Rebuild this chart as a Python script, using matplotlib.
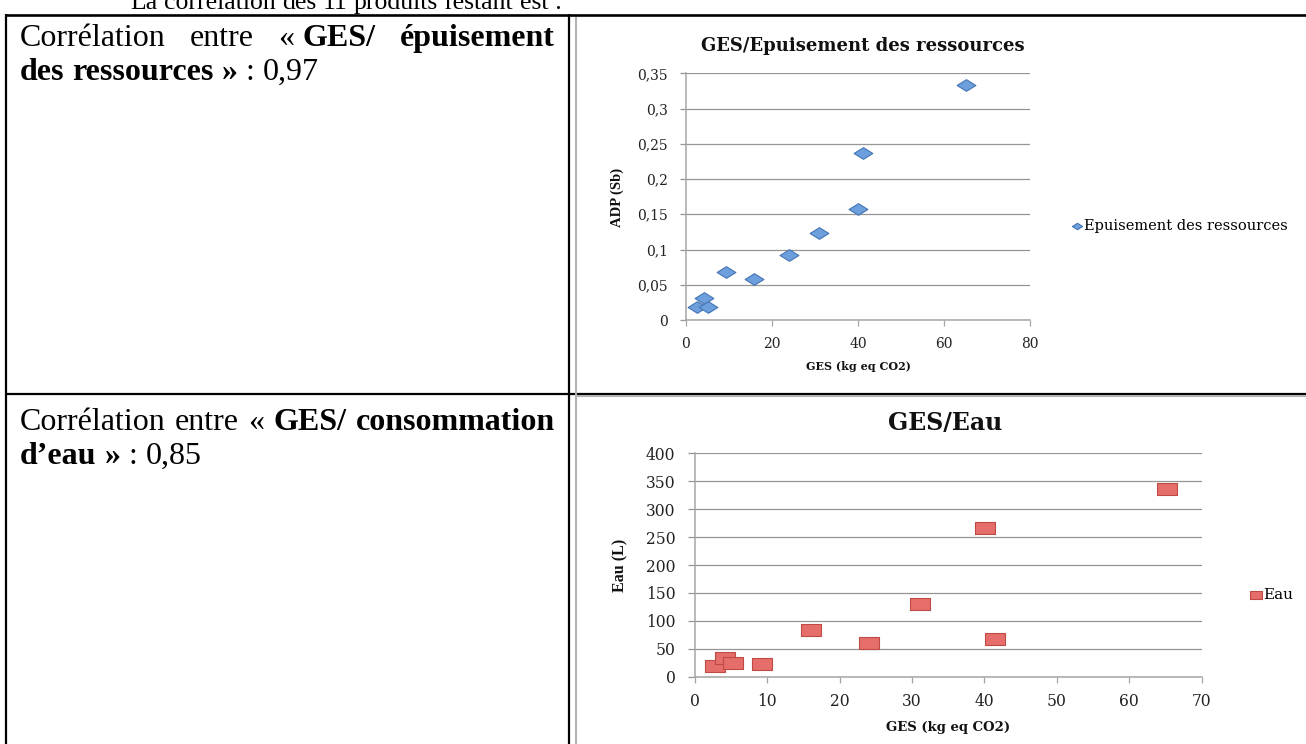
import matplotlib
matplotlib.use('Agg')
import matplotlib.pyplot as plt
from matplotlib.path import Path
from matplotlib.lines import Line2D
from matplotlib.ticker import FixedLocator, FixedFormatter

W, H = 1306, 744
DPI = 100

# ---------------- data ----------------
ges_adp = [2.5, 4.2, 5.1, 9.2, 15.9, 24.0, 30.9, 39.9, 41.2, 65.1]
adp = [0.019, 0.031, 0.019, 0.068, 0.058, 0.092, 0.123, 0.157, 0.237, 0.333]
adp_ticks = [0, 0.05, 0.1, 0.15, 0.2, 0.25, 0.3, 0.35]
adp_labels = ["0", "0,05", "0,1", "0,15", "0,2", "0,25", "0,3", "0,35"]
ges1_ticks = [0, 20, 40, 60, 80]
ges1_labels = ["0", "20", "40", "60", "80"]

ges_eau = [2.8, 4.2, 5.2, 9.3, 16.0, 24.0, 31.1, 40.1, 41.4, 65.3]
eau = [20, 34, 24, 23, 84, 61, 130, 267, 68, 336]
eau_ticks = [0, 50, 100, 150, 200, 250, 300, 350, 400]
eau_labels = ["0", "50", "100", "150", "200", "250", "300", "350", "400"]
ges2_ticks = [0, 10, 20, 30, 40, 50, 60, 70]
ges2_labels = ["0", "10", "20", "30", "40", "50", "60", "70"]

title1 = "GES/Epuisement des ressources"
title2 = "GES/Eau"
xlabel = "GES (kg eq CO2)"
ylabel1 = "ADP (Sb)"
ylabel2 = "Eau (L)"
legend1 = "Epuisement des ressources"
legend2 = "Eau"

DOC_FONT = "Liberation Serif"
CH_FONT = "DejaVu Serif"
DOC_SIZE = 23

fig = plt.figure(figsize=(W / DPI, H / DPI), dpi=DPI)
fig.patch.set_facecolor("white")


def fx(x):
    return x / W


def fy(y):
    return 1 - y / H


def fline(xs, ys, color="black", lw=2.0):
    fig.add_artist(Line2D([fx(v) for v in xs], [fy(v) for v in ys],
                          transform=fig.transFigure, color=color, lw=lw,
                          solid_capstyle="butt"))


# ---------------- table lines ----------------
fline([5, W], [15, 15], lw=1.9)
fline([6, 6], [14, H], lw=1.6)
fline([569, 569], [14, H], lw=1.6)
fline([5, W], [394, 394], lw=1.6)
fline([575.5, 575.5], [17, H], color="#b4b4b4", lw=1.5)
fline([575, W], [396, 396], color="#b4b4b4", lw=1.5)

renderer = fig.canvas.get_renderer()


def make_token(segs, y, size):
    arts = []
    for s, bold in segs:
        t = fig.text(0, fy(y), s, fontsize=size, family=DOC_FONT,
                     fontweight="bold" if bold else "normal", va="baseline",
                     ha="left", color="black")
        arts.append(t)
    return arts


def width_of(t):
    return t.get_window_extent(renderer).width


def space_width(size):
    a = fig.text(0, 0, "a a", fontsize=size, family=DOC_FONT)
    b = fig.text(0, 0, "aa", fontsize=size, family=DOC_FONT)
    d = width_of(a) - width_of(b)
    a.remove()
    b.remove()
    return d


def place_line(tokens, x0, y, x1=None, size=DOC_SIZE):
    tok_arts = [make_token(tk, y, size) for tk in tokens]
    tok_w = [sum(width_of(a) for a in arts) for arts in tok_arts]
    if x1 is not None and len(tokens) > 1:
        gap = (x1 - x0 - sum(tok_w)) / (len(tokens) - 1)
    else:
        gap = space_width(size)
    x = x0
    for arts, w in zip(tok_arts, tok_w):
        xx = x
        for a in arts:
            a.set_x(fx(xx))
            xx += width_of(a)
        x += w + gap


# top paragraph line (cut by the top edge, as in the source)
place_line([[("La", False)], [("corrélation", False)], [("des", False)], [("11", False)],
            [("produits", False)], [("restant", False)], [("est", False)], [(":", False)]],
           130, 9, size=18.5)

# row 1
place_line([[("Corrélation", False)], [("entre", False)],
            [("«\u00a0", False), ("GES/", True)], [("épuisement", True)]],
           20, 46, 555)
place_line([[("des", True)], [("ressources", True)], [("»", True)],
            [(":", False)], [("0,97", False)]], 20, 80)

# row 2
place_line([[("Corrélation", False)], [("entre", False)],
            [("«", False)], [("GES/", True)], [("consommation", True)]],
           20, 430, 555)
place_line([[("d’eau", True)], [("»", True)],
            [(":", False)], [("0,85", False)]], 20, 464)

# ---------------- markers ----------------
diamond = Path([(-1, 0), (0, 0.62), (1, 0), (0, -0.62), (-1, 0)],
               [Path.MOVETO, Path.LINETO, Path.LINETO, Path.LINETO, Path.CLOSEPOLY])
rect = Path([(-1, -0.62), (1, -0.62), (1, 0.62), (-1, 0.62), (-1, -0.62)],
            [Path.MOVETO, Path.LINETO, Path.LINETO, Path.LINETO, Path.CLOSEPOLY])

AX_COL = "#a6a6a6"
GRID_COL = "#959595"
TICK_COL = "#222222"


def style_axes(ax, ytick_len, xtick_len, ypad, xpad, fs):
    for s in ["top", "right"]:
        ax.spines[s].set_visible(False)
    for s in ["left", "bottom"]:
        ax.spines[s].set_color(AX_COL)
        ax.spines[s].set_linewidth(1.1)
    ax.yaxis.grid(True, color=GRID_COL, lw=0.9)
    ax.set_axisbelow(True)
    ax.tick_params(axis="y", direction="out", length=ytick_len, width=0.9,
                   color=GRID_COL, pad=ypad, labelsize=fs, labelcolor=TICK_COL)
    ax.tick_params(axis="x", direction="out", length=xtick_len, width=0.9,
                   color=AX_COL, pad=xpad, labelsize=fs, labelcolor=TICK_COL)
    for lab in ax.get_xticklabels() + ax.get_yticklabels():
        lab.set_family(CH_FONT)


# ---------------- chart 1 ----------------
ax1 = fig.add_axes([fx(686), fy(320), (1030 - 686) / W, (320 - 73.3) / H])
ax1.scatter(ges_adp, adp, marker=diamond, s=13.5 ** 2, facecolor="#6d9fdc",
            edgecolor="#4575b4", linewidths=0.8, zorder=3, clip_on=False,
            label=legend1)
ax1.set_xlim(0, 80)
ax1.set_ylim(0, 0.35)
ax1.xaxis.set_major_locator(FixedLocator(ges1_ticks))
ax1.xaxis.set_major_formatter(FixedFormatter(ges1_labels))
ax1.yaxis.set_major_locator(FixedLocator(adp_ticks))
ax1.yaxis.set_major_formatter(FixedFormatter(adp_labels))
style_axes(ax1, 4.5, 4.0, 8.5, 8.0, 10)

fig.text(fx(863), fy(46), title1, family=CH_FONT, fontweight="bold",
         fontsize=13, ha="center", va="center", color="#111111")
fig.text(fx(858), fy(367), xlabel, family=CH_FONT, fontweight="bold",
         fontsize=8, ha="center", va="center", color="#111111")
fig.text(fx(617), fy(197), ylabel1, family=DOC_FONT, fontweight="bold",
         fontsize=10.5, ha="center", va="center", rotation=90, color="#111111")
ax1.legend(loc="center left", bbox_to_anchor=(fx(1062), fy(226)),
           bbox_transform=fig.transFigure, frameon=False,
           handletextpad=0.0, borderpad=0, handlelength=1.0,
           prop={"family": CH_FONT, "size": 10.5}, markerscale=0.55)

# ---------------- chart 2 ----------------
ax2 = fig.add_axes([fx(695), fy(676.7), (1201.5 - 695) / W, (676.7 - 453.3) / H])
ax2.scatter(ges_eau, eau, marker=rect, s=15 ** 2, facecolor="#e66e6a",
            edgecolor="#bd4a46", linewidths=0.8, zorder=3, clip_on=False,
            label=legend2)
ax2.set_xlim(0, 70)
ax2.set_ylim(0, 400)
ax2.xaxis.set_major_locator(FixedLocator(ges2_ticks))
ax2.xaxis.set_major_formatter(FixedFormatter(ges2_labels))
ax2.yaxis.set_major_locator(FixedLocator(eau_ticks))
ax2.yaxis.set_major_formatter(FixedFormatter(eau_labels))
style_axes(ax2, 5.0, 4.0, 9.0, 7.5, 11.2)

fig.text(fx(945), fy(423), title2, family=CH_FONT, fontweight="bold",
         fontsize=17, ha="center", va="center", color="#111111")
fig.text(fx(948), fy(727), xlabel, family=CH_FONT, fontweight="bold",
         fontsize=9.5, ha="center", va="center", color="#111111")
fig.text(fx(620), fy(565), ylabel2, family=DOC_FONT, fontweight="bold",
         fontsize=11.5, ha="center", va="center", rotation=90, color="#111111")
ax2.legend(loc="center left", bbox_to_anchor=(fx(1242), fy(595)),
           bbox_transform=fig.transFigure, frameon=False,
           handletextpad=0.1, borderpad=0, handlelength=0.8,
           prop={"family": CH_FONT, "size": 11}, markerscale=0.6)

fig.savefig("out.png", dpi=DPI, facecolor="white")
